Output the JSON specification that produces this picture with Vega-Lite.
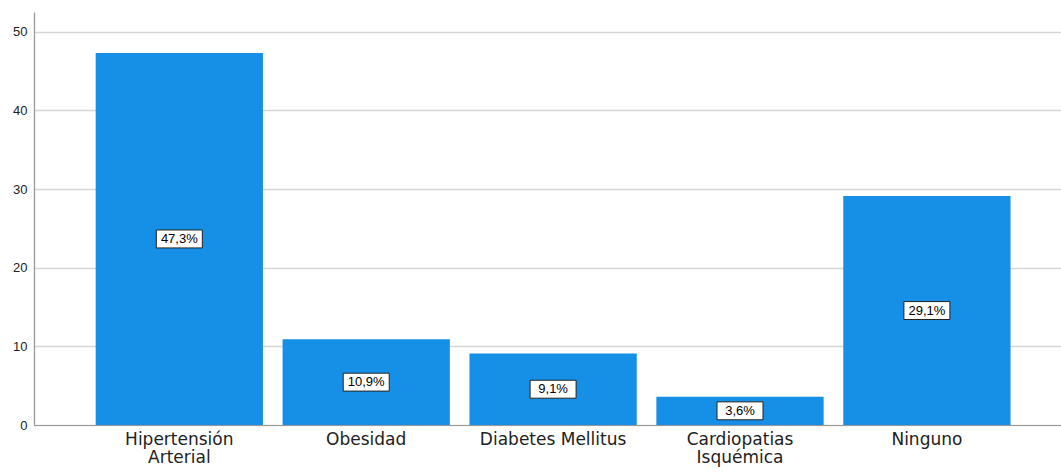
{
  "$schema": "https://vega.github.io/schema/vega-lite/v6.json",
  "width": 1027,
  "height": 413,
  "autosize": {"type": "none"},
  "padding": {"left": 34, "top": 12, "right": 0, "bottom": 48},
  "background": "white",
  "config": {"view": {"stroke": null}, "font": "Liberation Sans"},
  "data": {
    "values": [
      {"category": "Hipertensión Arterial", "value": 47.3, "label": "47,3%"},
      {"category": "Obesidad", "value": 10.9, "label": "10,9%"},
      {"category": "Diabetes Mellitus", "value": 9.1, "label": "9,1%"},
      {"category": "Cardiopatias Isquémica", "value": 3.6, "label": "3,6%"},
      {"category": "Ninguno", "value": 29.1, "label": "29,1%"}
    ]
  },
  "transform": [{"calculate": "datum.value/2", "as": "mid"}],
  "encoding": {
    "x": {
      "field": "category",
      "type": "nominal",
      "sort": null,
      "scale": {"paddingInner": 0.105, "paddingOuter": 0.3, "align": 0.55},
      "axis": {
        "title": null,
        "labelAngle": 0,
        "ticks": false,
        "labelFont": "DejaVu Sans",
        "labelFontSize": 17,
        "labelColor": "#222222",
        "labelPadding": 6,
        "labelLineHeight": 18,
        "labelBaseline": "top",
        "domainColor": "#999999",
        "domainWidth": 1.2,
        "labelExpr": "datum.label == 'Hipertensión Arterial' ? ['Hipertensión','Arterial'] : datum.label == 'Cardiopatias Isquémica' ? ['Cardiopatias','Isquémica'] : datum.label"
      }
    }
  },
  "layer": [
    {
      "mark": {"type": "bar", "color": "#1590e6"},
      "encoding": {
        "y": {
          "field": "value",
          "type": "quantitative",
          "scale": {"domain": [0, 52.5], "nice": false},
          "axis": {
            "title": null,
            "values": [0, 10, 20, 30, 40, 50],
            "ticks": false,
            "labelFontSize": 13,
            "labelColor": "#222222",
            "labelPadding": 7,
            "gridColor": "#d6d6d6",
            "gridWidth": 1.3,
            "domainColor": "#999999",
            "domainWidth": 1.3
          }
        }
      }
    },
    {
      "mark": {
        "type": "point",
        "shape": "M-1,-0.39L1,-0.39L1,0.39L-1,0.39Z",
        "size": 2116,
        "filled": true,
        "fill": "white",
        "stroke": "#222222",
        "strokeWidth": 1,
        "opacity": 1
      },
      "encoding": {"y": {"field": "mid", "type": "quantitative"}}
    },
    {
      "mark": {"type": "text", "fontSize": 13, "color": "#000000", "baseline": "middle", "align": "center"},
      "encoding": {
        "y": {"field": "mid", "type": "quantitative"},
        "text": {"field": "label"}
      }
    }
  ]
}
